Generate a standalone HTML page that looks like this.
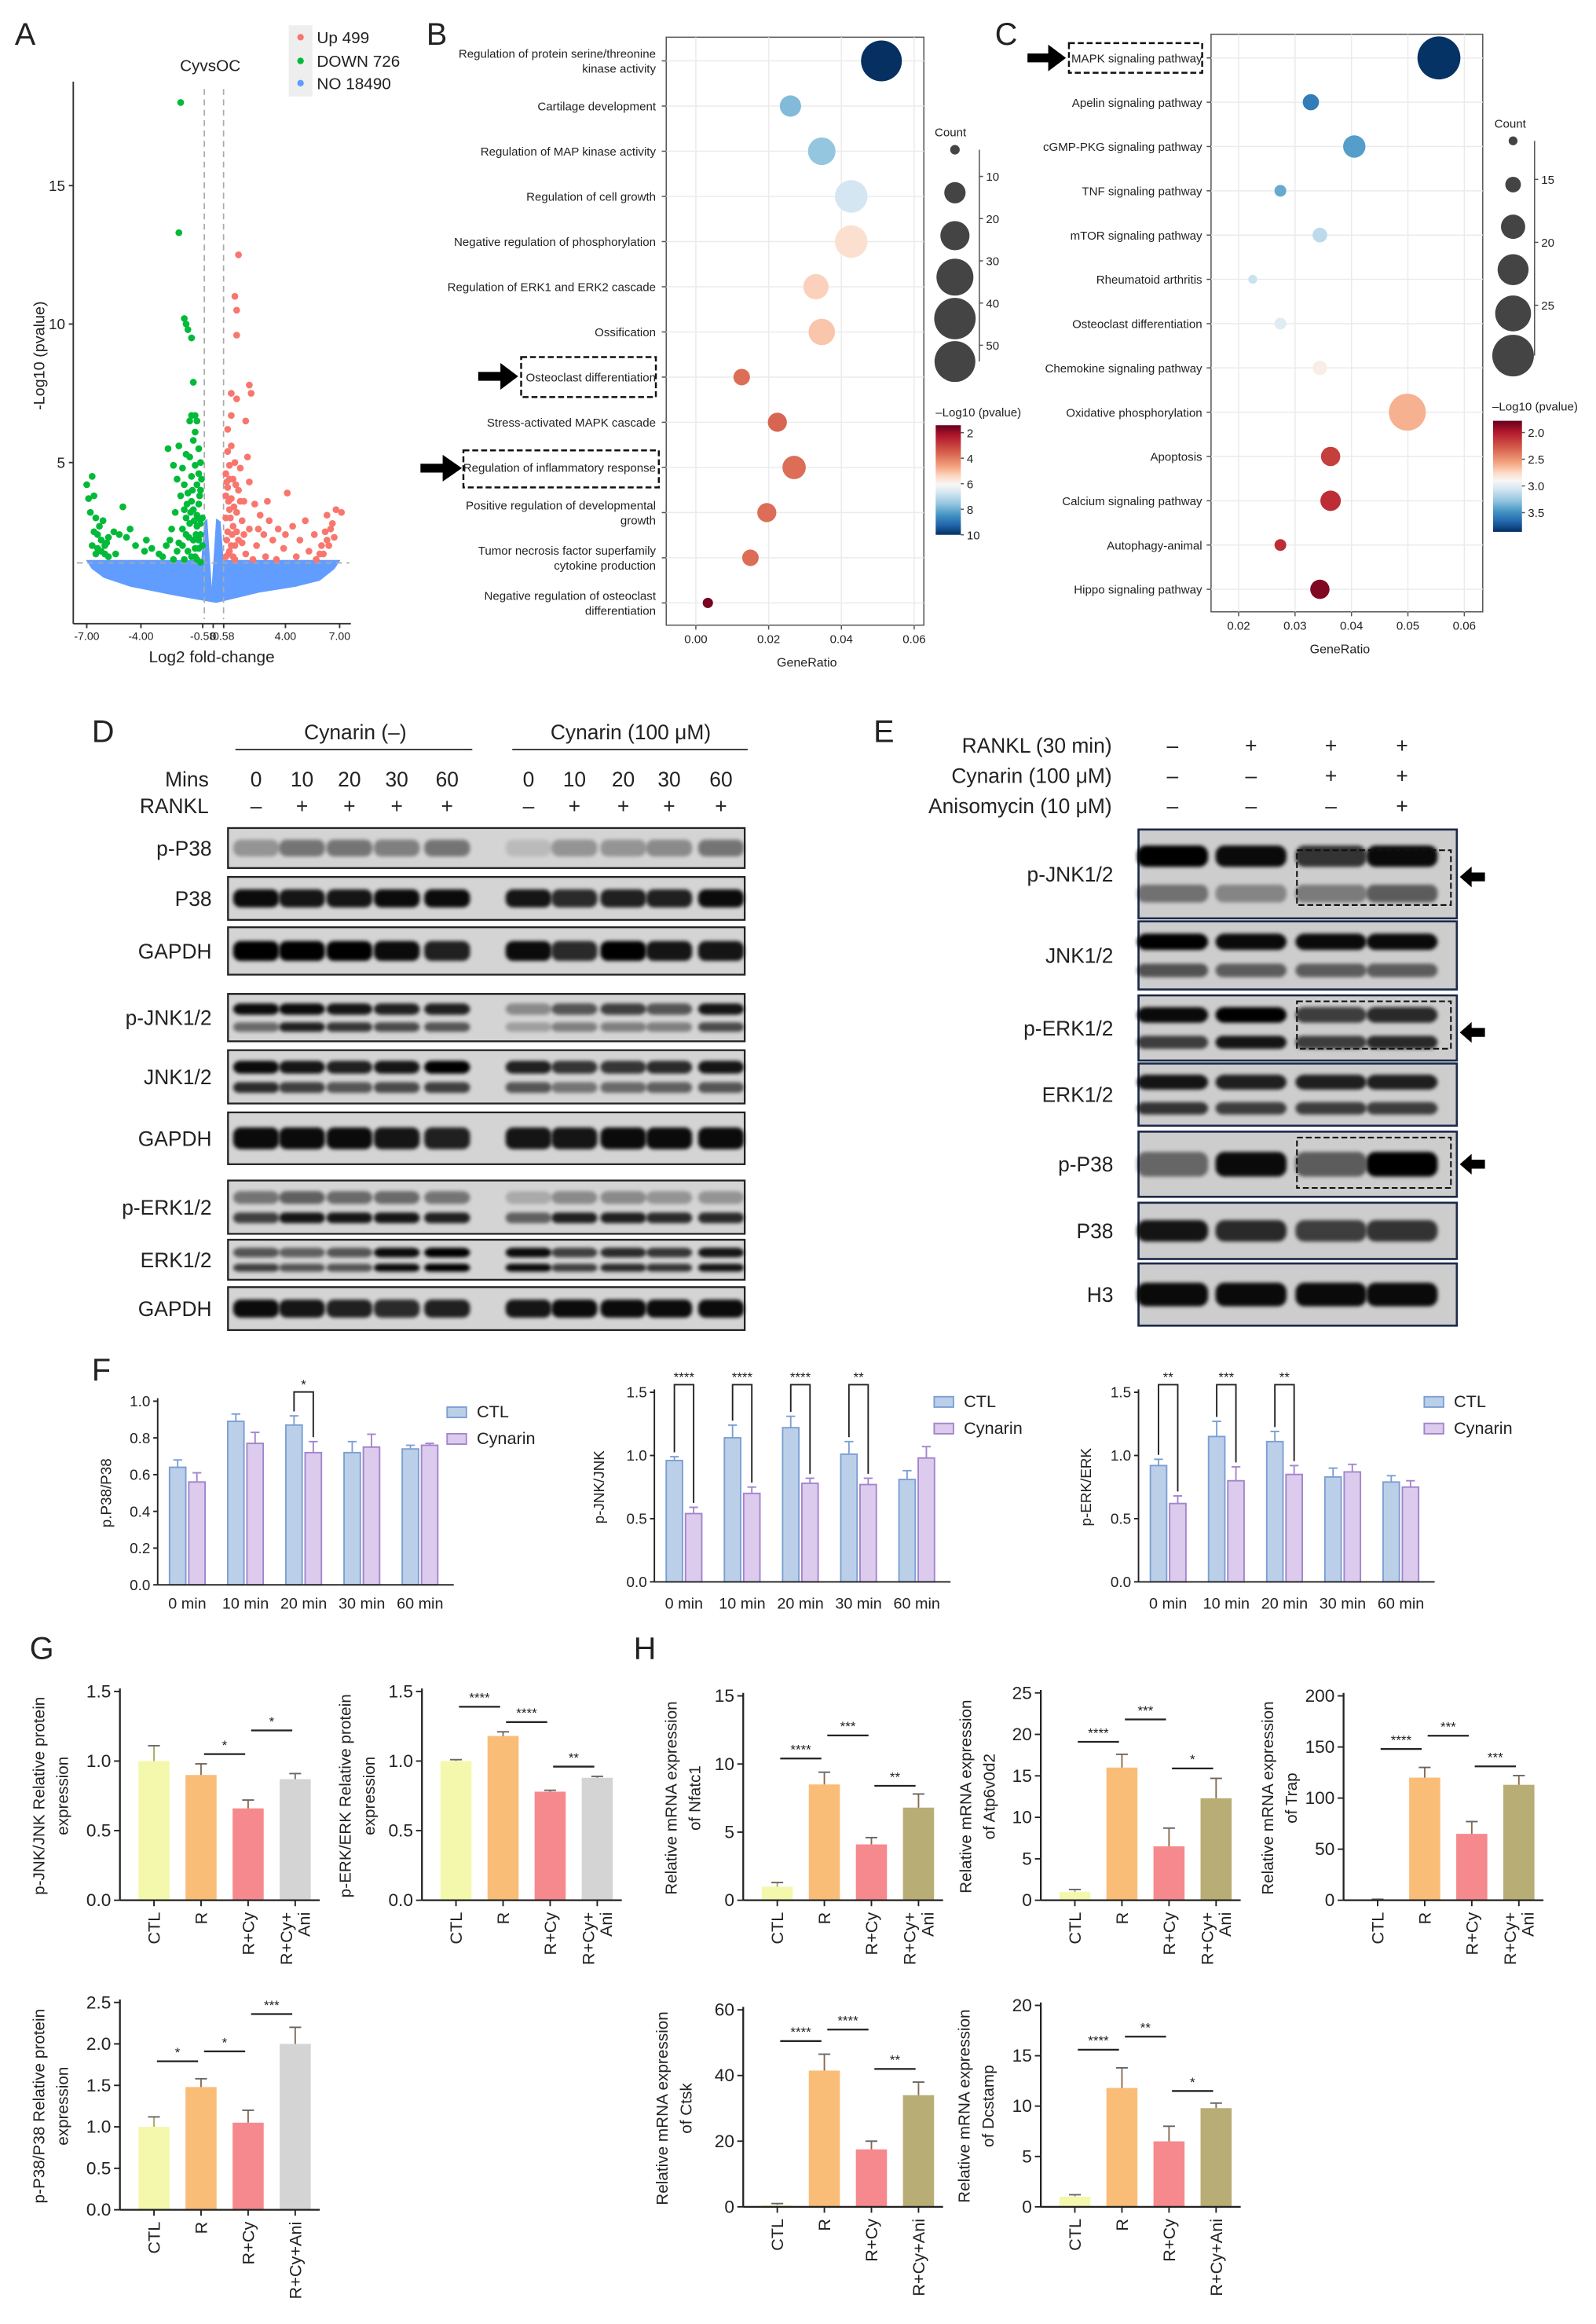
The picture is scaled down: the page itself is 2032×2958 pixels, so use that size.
<!DOCTYPE html>
<html><head><meta charset="utf-8"><title>Cynarin figure</title>
<style>
html,body{margin:0;padding:0;background:#fff;}
svg{display:block;font-family:"Liberation Sans",Arial,sans-serif;}
text{fill:#222;}
</style></head>
<body>
<svg id="fig" xmlns="http://www.w3.org/2000/svg" width="2032" height="2958" viewBox="0 0 1078 1569">
<defs>
<filter id="blur" x="-20%" y="-60%" width="140%" height="220%"><feGaussianBlur stdDeviation="1.3"/></filter>
<linearGradient id="cbB" x1="0" y1="0" x2="0" y2="1">
<stop offset="0" stop-color="#67001f"/><stop offset="0.1" stop-color="#b2182b"/><stop offset="0.25" stop-color="#d6604d"/><stop offset="0.38" stop-color="#f4a582"/><stop offset="0.47" stop-color="#fddbc7"/><stop offset="0.54" stop-color="#f7f7f7"/><stop offset="0.62" stop-color="#d1e5f0"/><stop offset="0.72" stop-color="#92c5de"/><stop offset="0.82" stop-color="#4393c3"/><stop offset="0.91" stop-color="#2166ac"/><stop offset="1" stop-color="#053061"/>
</linearGradient>
</defs>
</svg>
<script>
// ---------- DATA ----------
const volGreen=[[-1.8,18.0],[-1.9,13.3],[-1.6,10.2],[-1.5,10.0],[-1.4,9.8],[-1.2,9.5],[-1.1,7.9],[-1.2,6.7],[-1.0,6.7],[-0.9,6.5],[-1.3,6.5],[-1.0,6.1],[-1.1,5.8],[-1.9,5.6],[-1.5,5.3],[-1.3,5.2],[-0.8,5.5],[-0.7,5.0],[-1.0,4.9],[-0.8,4.6],[-1.2,4.5],[-0.9,4.2],[-0.7,4.0],[-1.6,4.2],[-2.0,4.4],[-1.4,3.9],[-1.8,3.8],[-0.8,3.5],[-1.1,3.3],[-1.5,3.0],[-2.1,3.2],[-1.3,2.8],[-0.9,2.7],[-0.7,2.4],[-1.7,2.6],[-2.3,2.6],[-1.1,2.2],[-1.9,2.1],[-2.6,2.0],[-0.8,1.9],[-1.4,1.8],[-3.0,1.7],[-3.4,1.9],[-3.8,1.8],[-4.3,2.0],[-4.8,2.3],[-5.2,2.4],[-4.6,2.6],[-3.7,2.2],[-5.0,3.4],[-5.5,2.5],[-5.8,2.3],[-6.0,2.0],[-6.2,2.2],[-6.4,2.4],[-6.6,2.5],[-6.3,2.7],[-6.5,3.0],[-6.8,3.2],[-6.9,3.7],[-7.0,4.2],[-6.7,4.5],[-6.6,3.8],[-6.1,2.9],[-5.8,1.6],[-5.4,1.7],[-2.8,1.6],[-2.2,1.5],[-1.6,1.5],[-1.0,1.6],[-0.7,1.4],[-2.5,5.5],[-2.2,4.9],[-1.7,4.8],[-0.6,3.0],[-0.6,2.0],[-1.2,3.6],[-0.9,3.1],[-1.5,2.4],[-2.0,1.8],[-0.65,4.4],[-0.75,3.8],[-0.85,3.0],[-0.95,2.4],[-1.05,2.9],[-1.15,4.0],[-1.25,3.2],[-1.35,2.3],[-1.45,3.5],[-0.7,2.8],[-0.8,2.2],[-1.0,1.9],[-1.2,1.6],[-0.9,1.5],[-1.7,2.0],[-1.6,3.3],[-2.4,2.2],[-6.2,1.8],[-6.4,1.9],[-6.0,1.7],[-5.9,2.1],[-6.7,2.0],[-6.5,1.7]];
const volRed=[[1.4,12.5],[1.2,11.0],[1.3,10.5],[1.3,9.6],[2.0,7.8],[2.1,7.5],[1.0,7.5],[1.3,7.3],[1.0,6.7],[1.8,6.5],[0.8,6.2],[1.0,5.6],[0.8,5.4],[1.9,5.2],[1.2,5.0],[0.9,4.9],[1.5,4.8],[0.7,4.6],[1.1,4.4],[2.0,4.3],[0.8,4.1],[1.4,4.0],[4.1,3.9],[0.7,3.8],[1.0,3.7],[1.7,3.6],[2.3,3.5],[0.9,3.3],[1.3,3.2],[2.6,3.1],[6.3,3.1],[6.8,3.3],[7.1,3.2],[0.7,3.0],[1.6,2.9],[3.1,2.9],[5.1,2.9],[6.6,2.8],[1.1,2.7],[2.0,2.6],[3.6,2.6],[4.4,2.7],[6.5,2.6],[0.8,2.5],[2.8,2.4],[4.0,2.4],[5.6,2.4],[6.3,2.2],[1.4,2.2],[3.3,2.2],[4.8,2.2],[6.0,2.0],[2.4,2.0],[3.9,1.9],[5.3,1.8],[6.1,1.7],[0.9,1.8],[1.8,1.7],[2.9,1.6],[4.6,1.6],[5.7,1.5],[3.5,1.5],[1.2,1.5],[2.2,1.5],[0.7,1.6],[3.0,3.6],[2.5,2.6],[1.6,2.1],[1.0,2.0],[0.75,4.3],[0.85,3.6],[0.95,3.0],[1.05,2.4],[1.15,3.4],[1.25,4.2],[0.75,2.2],[0.85,1.7],[1.1,1.6],[1.3,2.5],[1.5,3.6],[1.7,2.4],[0.9,4.4],[1.2,2.0],[6.2,2.5],[6.4,2.0],[6.7,2.3],[5.9,1.7]];
const volXTicks=[-7,-4,-0.58,0,0.58,4,7];
const volXTickLabels=["-7.00","-4.00","-0.58","0","0.58","4.00","7.00"];
const volYTicks=[5,10,15];

const bTerms=["Regulation of protein serine/threonine|kinase activity","Cartilage development","Regulation of MAP kinase activity","Regulation of cell growth","Negative regulation of phosphorylation","Regulation of ERK1 and ERK2 cascade","Ossification","Osteoclast differentiation","Stress-activated MAPK cascade","Regulation of inflammatory response","Positive regulation of developmental|growth","Tumor necrosis factor superfamily|cytokine production","Negative regulation of osteoclast|differentiation"];
const bRatio=[0.051,0.026,0.0346,0.0427,0.0427,0.033,0.0346,0.0126,0.0224,0.027,0.0195,0.015,0.0033];
const bCount=[55,15,25,35,35,21,23,9,12,18,12,9,3.5];
const bLogP=[10,7.6,7.4,6.5,5.0,4.7,4.5,3.3,3.2,3.3,3.3,3.3,1.6];
const bXTicks=[0,0.02,0.04,0.06];
const bCountLegend=[3,15,28,45,63,55];
const bCountTicks=[10,20,30,40,50];
const bColorTicks=[2,4,6,8,10];

const cTerms=["MAPK signaling pathway","Apelin signaling pathway","cGMP-PKG signaling pathway","TNF signaling pathway","mTOR signaling pathway","Rheumatoid arthritis","Osteoclast differentiation","Chemokine signaling pathway","Oxidative phosphorylation","Apoptosis","Calcium signaling pathway","Autophagy-animal","Hippo signaling pathway"];
const cRatio=[0.0555,0.0328,0.0405,0.0274,0.0344,0.0225,0.0274,0.0344,0.0499,0.0363,0.0363,0.0274,0.0344];
const cCount=[29.7,15.8,19,13.5,15,12,13.5,15,26.6,17.4,18,13.5,17.4];
const cLogP=[3.85,3.55,3.4,3.35,3.1,3.05,2.95,2.75,2.45,2.1,2.05,2.05,1.85];
const cXTicks=[0.02,0.03,0.04,0.05,0.06];
const cCountLegend=[12,15.5,20,23.5,26,29];
const cCountTicks=[15,20,25];
const cColorTicks=[2.0,2.5,3.0,3.5];

const fCats=["0 min","10 min","20 min","30 min","60 min"];
const f1Ctl=[0.64,0.89,0.87,0.72,0.74], f1CtlErr=[0.04,0.04,0.05,0.06,0.02];
const f1Cyn=[0.56,0.77,0.72,0.75,0.76], f1CynErr=[0.05,0.06,0.06,0.07,0.01];
const f1Sig=[[2,1.05,"*"]];
const f1Ticks=[0,0.2,0.4,0.6,0.8,1.0];
const f2Ctl=[0.96,1.14,1.22,1.01,0.81], f2CtlErr=[0.03,0.1,0.09,0.1,0.07];
const f2Cyn=[0.54,0.70,0.78,0.77,0.98], f2CynErr=[0.05,0.05,0.04,0.05,0.09];
const f2Sig=[[0,1.56,"****"],[1,1.56,"****"],[2,1.56,"****"],[3,1.56,"**"]];
const f3Ctl=[0.92,1.15,1.11,0.83,0.79], f3CtlErr=[0.05,0.12,0.08,0.07,0.05];
const f3Cyn=[0.62,0.80,0.85,0.87,0.75], f3CynErr=[0.06,0.11,0.07,0.06,0.05];
const f3Sig=[[0,1.56,"**"],[1,1.56,"***"],[2,1.56,"**"]];
const f23Ticks=[0,0.5,1.0,1.5];

const gCats=["CTL","R","R+Cy","R+Cy+|Ani"];
const gCats3=["CTL","R","R+Cy","R+Cy+Ani"];
const g1Vals=[1.0,0.90,0.66,0.87], g1Err=[0.11,0.08,0.06,0.04], g1Sig=[[1,2,1.05,"*"],[2,3,1.22,"*"]];
const g2Vals=[1.0,1.18,0.78,0.88], g2Err=[0.01,0.03,0.01,0.01], g2Sig=[[0,1,1.39,"****"],[1,2,1.28,"****"],[2,3,0.96,"**"]];
const g3Vals=[1.0,1.48,1.05,2.0], g3Err=[0.12,0.1,0.15,0.2], g3Sig=[[0,1,1.79,"*"],[1,2,1.91,"*"],[2,3,2.36,"***"]];
const h1Vals=[1.0,8.5,4.1,6.8], h1Err=[0.3,0.9,0.5,1.0], h1Sig=[[0,1,10.4,"****"],[1,2,12.1,"***"],[2,3,8.4,"**"]];
const h2Vals=[1.0,16,6.5,12.3], h2Err=[0.3,1.6,2.2,2.4], h2Sig=[[0,1,19.1,"****"],[1,2,21.8,"***"],[2,3,15.9,"*"]];
const h3Vals=[0.5,120,65,113], h3Err=[0.5,10,12,9], h3Sig=[[0,1,148,"****"],[1,2,161,"***"],[2,3,131,"***"]];
const h4Vals=[0.5,41.5,17.5,34], h4Err=[0.5,5,2.5,4], h4Sig=[[0,1,50.5,"****"],[1,2,54,"****"],[2,3,42,"**"]];
const h5Vals=[1.0,11.8,6.5,9.8], h5Err=[0.2,2,1.5,0.5], h5Sig=[[0,1,15.6,"****"],[1,2,16.9,"**"],[2,3,11.5,"*"]];

const dLanes=["0","10","20","30","60","0","10","20","30","60"];
const dRankl=["–","+","+","+","+","–","+","+","+","+"];
const dRows=["p-P38","P38","GAPDH","p-JNK1/2","JNK1/2","GAPDH","p-ERK1/2","ERK1/2","GAPDH"];
const dIntUpper=[[0.3,0.45,0.45,0.4,0.45,0.12,0.3,0.3,0.35,0.45],[0.95,0.9,0.9,0.95,0.95,0.9,0.8,0.85,0.85,0.95],[1,1,1,0.95,0.85,0.95,0.8,1,0.9,0.9],[0.95,0.95,0.9,0.85,0.85,0.35,0.6,0.7,0.6,0.9],[0.95,0.9,0.85,0.9,1,0.85,0.75,0.75,0.8,0.9],[0.95,0.95,0.95,0.9,0.85,0.9,0.9,0.95,0.95,0.95],[0.45,0.55,0.5,0.5,0.45,0.2,0.35,0.35,0.3,0.3],[0.6,0.55,0.6,0.95,1,0.95,0.7,0.8,0.75,0.9],[0.95,0.9,0.85,0.8,0.85,0.9,0.95,0.95,0.95,0.95]];
const dIntLower=[null,null,null,[0.5,0.85,0.75,0.65,0.6,0.25,0.4,0.4,0.4,0.65],[0.8,0.7,0.6,0.65,0.7,0.6,0.45,0.5,0.55,0.6],null,[0.7,0.9,0.9,0.9,0.85,0.55,0.85,0.85,0.8,0.8],[0.7,0.6,0.6,0.95,1,0.95,0.7,0.8,0.75,0.9],null];

const eSigns=[["–","+","+","+"],["–","–","+","+"],["–","–","–","+"]];
const eHeaders=["RANKL (30 min)","Cynarin (100 μM)","Anisomycin (10 μM)"];
const eRows=["p-JNK1/2","JNK1/2","p-ERK1/2","ERK1/2","p-P38","P38","H3"];
const eIntUpper=[[1,0.95,0.75,0.95],[1,0.95,0.95,0.95],[0.95,1,0.7,0.8],[0.9,0.85,0.85,0.85],[0.5,0.95,0.55,1],[0.9,0.8,0.7,0.75],[0.95,0.95,0.95,0.95]];
const eIntLower=[[0.45,0.35,0.4,0.55],[0.6,0.55,0.55,0.55],[0.7,0.9,0.7,0.8],[0.75,0.7,0.7,0.7],null,null,null];

// ---------- HELPERS ----------
const NS='http://www.w3.org/2000/svg';
const root=document.getElementById('fig');
function el(tag,attrs,name,inter,parent){
  const e=document.createElementNS(NS,tag);
  for(const k in attrs) e.setAttribute(k,attrs[k]);
  
  
  (parent||root).appendChild(e);
  return e;
}
function txt(x,y,s,size,anchor,name,extra){
  const a=Object.assign({x:x,y:y,'font-size':size,'text-anchor':anchor||'start'},extra||{});
  const t=el('text',a,name,false);
  t.textContent=s;
  return t;
}
function line(x1,y1,x2,y2,stroke,w,name,extra){
  return el('line',Object.assign({x1:x1,y1:y1,x2:x2,y2:y2,stroke:stroke,'stroke-width':w},extra||{}),name,false);
}
const RDBU=['#67001f','#b2182b','#d6604d','#f4a582','#fddbc7','#f7f7f7','#d1e5f0','#92c5de','#4393c3','#2166ac','#053061'];
function hex(c){return [parseInt(c.substr(1,2),16),parseInt(c.substr(3,2),16),parseInt(c.substr(5,2),16)];}
function cmap(t){
  t=Math.max(0,Math.min(1,t));
  const p=t*10, i=Math.min(9,Math.floor(p)), f=p-i;
  const a=hex(RDBU[i]), b=hex(RDBU[i+1]);
  return 'rgb('+a.map((v,k)=>Math.round(v+(b[k]-v)*f)).join(',')+')';
}
function panelLabel(x,y,s){ txt(x,y,s,21,'start','panel-label-'+s.toLowerCase()); }

// ---------- PANEL A: volcano ----------
panelLabel(10,30,'A');
(function(){
  const vx=v=>144+v*12.2, vy=v=>405.7-v*18.7;
  el('path',{d:'M58,378 L136,378 L138,352 L140,350 L143,396 L146,350 L149,352 L151,378 L230,378 L226,384 L216,392 L200,396 L175,400 L146,407 L118,402 L88,396 L70,390 L62,384 Z',fill:'#619cff'},'non-significant-genes',false);
  line(138,60,138,418,'#aaa',0.9,'threshold-line-left',{'stroke-dasharray':'4,3'});
  line(151,60,151,418,'#aaa',0.9,'threshold-line-right',{'stroke-dasharray':'4,3'});
  line(52,380,236,380,'#aaa',0.9,'pvalue-threshold-line',{'stroke-dasharray':'4,3'});
  volGreen.forEach(p=>{
    const c=el('circle',{cx:vx(p[0]),cy:vy(p[1]),r:2.3,fill:'#00ba38'},'down-gene-point',false);
  });
  volRed.forEach(p=>{
    const c=el('circle',{cx:vx(p[0]),cy:vy(p[1]),r:2.3,fill:'#f8766d'},'up-gene-point',false);
  });
  line(49.5,55,49.5,421,'#333',1,'volcano-y-axis');
  line(49.5,421,237,421,'#333',1,'volcano-x-axis');
  volYTicks.forEach(v=>{
    line(46.5,vy(v),49.5,vy(v),'#333',1,'volcano-y-tick');
    txt(44,vy(v)+3.5,String(v),10,'end','volcano-y-tick-label');
  });
  volXTicks.forEach((v,i)=>{
    line(vx(v),421,vx(v),424,'#333',1,'volcano-x-tick');
    txt(vx(v),432,volXTickLabels[i],7.5,'middle','volcano-x-tick-label',{fill:'#444'});
  });
  txt(143,447,'Log2 fold-change',11,'middle','volcano-x-axis-title');
  txt(0,0,'-Log10 (pvalue)',10.5,'middle','volcano-y-axis-title',{transform:'translate(30,240) rotate(-90)'});
  txt(142,48,'CyvsOC',11,'middle','volcano-title');
  el('rect',{x:195,y:17,width:16,height:48,fill:'#eee'},'legend-key-bg',false);
  [['Up 499','#f8766d',25],['DOWN 726','#00ba38',41],['NO 18490','#619cff',56]].forEach(l=>{
    el('circle',{cx:203,cy:l[2],r:2.2,fill:l[1]},'legend-marker',false);
    txt(214,l[2]+4,l[0],11,'start','legend-entry');
  });
})();

// ---------- PANEL B: GO bubble ----------
panelLabel(288,30,'B');
(function(){
  const x=v=>470+v*2458, y=i=>41+i*30.5;
  el('rect',{x:450,y:25,width:174,height:397,fill:'#fff',stroke:'#555','stroke-width':0.8},'go-plot-area',false);
  bXTicks.forEach(v=>{ line(x(v),25,x(v),422,'#ebebeb',0.8,'go-gridline-x'); });
  bTerms.forEach((t,i)=>{ line(450,y(i),624,y(i),'#ebebeb',0.8,'go-gridline-y'); });
  bTerms.forEach((t,i)=>{
    const parts=t.split('|');
    parts.forEach((p,k)=>{
      const yy=y(i)+3-(parts.length-1)*5+k*10;
      txt(443,yy,p,8,'end','go-term-label',{fill:'#333'});
    });
    line(447,y(i),450,y(i),'#555',0.8,'go-term-tick');
  });
  bTerms.forEach((t,i)=>{
    el('circle',{cx:x(bRatio[i]),cy:y(i),r:1.86*Math.sqrt(bCount[i]),fill:cmap((bLogP[i]-1.42)/(10-1.42))},'go-bubble',false);
  });
  bXTicks.forEach(v=>{
    line(x(v),422,x(v),425,'#555',0.8,'go-x-tick');
    txt(x(v),434,v.toFixed(2),8,'middle','go-x-tick-label',{fill:'#444'});
  });
  txt(545,450,'GeneRatio',8.5,'middle','go-x-axis-title',{fill:'#333'});
  el('path',{d:'M323,251 L338,251 L338,245 L350,254 L338,263 L338,257 L323,257 Z',fill:'#000'},'highlight-arrow',false);
  el('rect',{x:352,y:241,width:91,height:27,fill:'none',stroke:'#111','stroke-width':1.3,'stroke-dasharray':'4,2'},'highlight-box',false);
  el('path',{d:'M284,313 L299,313 L299,307 L312,316 L299,325 L299,319 L284,319 Z',fill:'#000'},'highlight-arrow',false);
  el('rect',{x:313,y:304,width:132,height:25,fill:'none',stroke:'#111','stroke-width':1.3,'stroke-dasharray':'4,2'},'highlight-box',false);
  txt(642,92,'Count',8,'middle','count-legend-title',{fill:'#333'});
  const ly=[101,130,159,187,215,244];
  bCountLegend.forEach((c,i)=>{ el('circle',{cx:645,cy:ly[i],r:Math.min(14,1.86*Math.sqrt(c)),fill:'#444'},'count-legend-circle',false); });
  line(661.5,101,661.5,244,'#555',0.8,'count-legend-axis');
  const cy=v=>119+(v-10)*2.85;
  bCountTicks.forEach(v=>{ line(661.5,cy(v),664,cy(v),'#555',0.8,'count-legend-tick'); txt(666,cy(v)+3,String(v),8,'start','count-legend-label',{fill:'#333'}); });
  txt(632,281,'–Log10 (pvalue)',8,'start','colorbar-title',{fill:'#333'});
  el('rect',{x:632,y:287,width:17,height:74,fill:'url(#cbB)'},'colorbar',false);
  const cby=v=>287+(v-1.42)/(10-1.42)*74;
  bColorTicks.forEach(v=>{ line(649,cby(v),651,cby(v),'#555',0.8,'colorbar-tick'); txt(653,cby(v)+3,String(v),8,'start','colorbar-label',{fill:'#333'}); });
})();

// ---------- PANEL C: KEGG bubble ----------
panelLabel(672,30,'C');
(function(){
  const x=v=>760.4+v*3811, y=i=>39+i*29.9;
  el('rect',{x:818,y:23,width:183.5,height:390,fill:'#fff',stroke:'#555','stroke-width':0.8},'kegg-plot-area',false);
  cXTicks.forEach(v=>{ line(x(v),23,x(v),413,'#ebebeb',0.8,'kegg-gridline-x'); });
  cTerms.forEach((t,i)=>{ line(818,y(i),1001.5,y(i),'#ebebeb',0.8,'kegg-gridline-y'); });
  cTerms.forEach((t,i)=>{
    txt(812,y(i)+3,t,8,'end','kegg-term-label',{fill:'#333'});
    line(815,y(i),818,y(i),'#555',0.8,'kegg-term-tick');
  });
  cTerms.forEach((t,i)=>{
    el('circle',{cx:x(cRatio[i]),cy:y(i),r:3+(cCount[i]-12)*0.65,fill:cmap((cLogP[i]-1.78)/(3.86-1.78))},'kegg-bubble',false);
  });
  cXTicks.forEach(v=>{
    line(x(v),413,x(v),416,'#555',0.8,'kegg-x-tick');
    txt(x(v),425,v.toFixed(2),8,'middle','kegg-x-tick-label',{fill:'#444'});
  });
  txt(905,441,'GeneRatio',8.5,'middle','kegg-x-axis-title',{fill:'#333'});
  el('path',{d:'M694,36 L708,36 L708,30 L720,39 L708,48 L708,42 L694,42 Z',fill:'#000'},'highlight-arrow',false);
  el('rect',{x:722,y:29,width:90,height:20,fill:'none',stroke:'#111','stroke-width':1.3,'stroke-dasharray':'4,2'},'highlight-box',false);
  txt(1020,86,'Count',8,'middle','count-legend-title',{fill:'#333'});
  const ly=[95,124.5,153,182,211.5,240];
  cCountLegend.forEach((c,i)=>{ el('circle',{cx:1022,cy:ly[i],r:3+(c-12)*0.65,fill:'#444'},'count-legend-circle',false); });
  line(1036.5,95,1036.5,240,'#555',0.8,'count-legend-axis');
  const cy=v=>121+(v-15)*8.5;
  cCountTicks.forEach(v=>{ line(1036.5,cy(v),1039,cy(v),'#555',0.8,'count-legend-tick'); txt(1041,cy(v)+3,String(v),8,'start','count-legend-label',{fill:'#333'}); });
  txt(1008,277,'–Log10 (pvalue)',8,'start','colorbar-title',{fill:'#333'});
  el('rect',{x:1008.5,y:284,width:19.5,height:75,fill:'url(#cbB)'},'colorbar',false);
  const cby=v=>284+(v-1.78)/(3.86-1.78)*75;
  cColorTicks.forEach(v=>{ line(1028,cby(v),1030,cby(v),'#555',0.8,'colorbar-tick'); txt(1032,cby(v)+3,v.toFixed(1),8,'start','colorbar-label',{fill:'#333'}); });
})();

// ---------- PANEL D: western blots ----------
panelLabel(62,501,'D');
(function(){
  const lx=[173,204,236,268,302,357,388,421,452,487];
  txt(240,499,'Cynarin (–)',14,'middle','group-header-cynarin-neg');
  line(159,506,319,506,'#333',1,'group-underline');
  txt(426,499,'Cynarin (100 μM)',14,'middle','group-header-cynarin-100');
  line(346,506,505,506,'#333',1,'group-underline');
  txt(141,531,'Mins',14,'end','mins-label');
  txt(141,549,'RANKL',14,'end','rankl-label');
  dLanes.forEach((s,i)=>{ txt(lx[i],531,s,14,'middle','lane-minutes'); txt(lx[i],549,dRankl[i],14,'middle','lane-rankl-sign'); });
  const boxes=[[559,586],[592,621],[626,658],[671,703],[709,745],[751,786],[797,833],[837,864],[869,898]];
  boxes.forEach((b,r)=>{
    const g=el('g',{},'blot-'+dRows[r].toLowerCase().replace(/[^a-z0-9]+/g,'-'),false);
    el('rect',{x:154,y:b[0],width:349,height:b[1]-b[0],fill:'#d4d4d4',stroke:'#222','stroke-width':1.2},'blot-membrane',false,g);
    const two=dIntLower[r]!==null;
    const h=b[1]-b[0];
    dIntUpper[r].forEach((v,i)=>{
      const bh=two?h*0.24:h*0.42;
      const cy=two? b[0]+h*0.32 : b[0]+h*0.5;
      el('rect',{x:lx[i]-15.5,y:cy-bh/2,width:31,height:bh,rx:5,fill:'#000','fill-opacity':v,filter:'url(#blur)'},'blot-band',false,g);
    });
    if(two) dIntLower[r].forEach((v,i)=>{
      const bh=h*0.2;
      el('rect',{x:lx[i]-15.5,y:b[0]+h*0.7-bh/2,width:31,height:bh,rx:4,fill:'#000','fill-opacity':v,filter:'url(#blur)'},'blot-band',false,g);
    });
    txt(143,(b[0]+b[1])/2+5,dRows[r],14,'end','blot-row-label');
  });
})();

// ---------- PANEL E ----------
panelLabel(590,501,'E');
(function(){
  const lx=[792,845,899,947];
  eHeaders.forEach((h,r)=>{
    txt(751,508+r*20.5,h,14,'end','treatment-header');
    eSigns[r].forEach((s,i)=>{ txt(lx[i],508+r*20.5,s,14,'middle','treatment-sign'); });
  });
  const boxes=[[560,620],[622,668],[672,716],[718,760],[764,808],[812,850],[853,895]];
  boxes.forEach((b,r)=>{
    const g=el('g',{},'blot-e-'+eRows[r].toLowerCase().replace(/[^a-z0-9]+/g,'-'),false);
    el('rect',{x:769,y:b[0],width:215,height:b[1]-b[0],fill:'#cdcdcd',stroke:'#1c2a4a','stroke-width':1.4},'blot-membrane',false,g);
    const two=eIntLower[r]!==null;
    const h=b[1]-b[0];
    eIntUpper[r].forEach((v,i)=>{
      const bh=two?h*0.24:h*0.38;
      const cy=two? b[0]+h*0.3 : b[0]+h*0.5;
      el('rect',{x:lx[i]-24,y:cy-bh/2,width:48,height:bh,rx:6,fill:'#000','fill-opacity':v,filter:'url(#blur)'},'blot-band',false,g);
    });
    if(two) eIntLower[r].forEach((v,i)=>{
      const bh=h*0.2;
      el('rect',{x:lx[i]-24,y:b[0]+h*0.72-bh/2,width:48,height:bh,rx:5,fill:'#000','fill-opacity':v,filter:'url(#blur)'},'blot-band',false,g);
    });
    txt(752,(b[0]+b[1])/2+5,eRows[r],14,'end','blot-row-label');
  });
  [[876,574,104,37,592],[876,676,104,32,697],[876,768,104,34,786]].forEach(d=>{
    el('rect',{x:d[0],y:d[1],width:d[2],height:d[3],fill:'none',stroke:'#111','stroke-width':1.1,'stroke-dasharray':'4,2'},'highlight-box',false);
    el('path',{d:'M1003,'+(d[4]-3)+' L994,'+(d[4]-3)+' L994,'+(d[4]-7)+' L986,'+d[4]+' L994,'+(d[4]+7)+' L994,'+(d[4]+3)+' L1003,'+(d[4]+3)+' Z',fill:'#000'},'highlight-arrow',false);
  });
})();

// ---------- PANEL F ----------
panelLabel(62,932,'F');
function fChart(name,x0,yb,yt,vmax,ticks,dec,ctl,ctlE,cyn,cynE,sig,ylabel,ylx,legX,legY){
  const g=el('g',{},name,false);
  const y=v=>yb-(v/vmax)*(yb-yt);
  const gx=i=>x0+20+i*39.3;
  ctl.forEach((v,i)=>{
    const cx=gx(i)-6.5;
    el('rect',{x:cx-5.5,y:y(v),width:11,height:yb-y(v),fill:'#bccfe9',stroke:'#7b9fd3','stroke-width':1},'bar-ctl-'+fCats[i].replace(' ',''),false,g);
    line(cx,y(v),cx,y(v+ctlE[i]),'#7b9fd3',1,'error-bar');
    line(cx-3,y(v+ctlE[i]),cx+3,y(v+ctlE[i]),'#7b9fd3',1,'error-cap');
  });
  cyn.forEach((v,i)=>{
    const cx=gx(i)+6.5;
    el('rect',{x:cx-5.5,y:y(v),width:11,height:yb-y(v),fill:'#dccbed',stroke:'#a384cd','stroke-width':1},'bar-cynarin-'+fCats[i].replace(' ',''),false,g);
    line(cx,y(v),cx,y(v+cynE[i]),'#a384cd',1,'error-bar');
    line(cx-3,y(v+cynE[i]),cx+3,y(v+cynE[i]),'#a384cd',1,'error-cap');
  });
  sig.forEach(s=>{
    const i=s[0], lev=y(s[1]);
    const a=gx(i)-6.5, b=gx(i)+6.5;
    el('path',{d:'M'+a+','+(y(ctl[i]+ctlE[i])-3)+' V'+lev+' H'+b+' V'+(y(cyn[i]+cynE[i])-3),fill:'none',stroke:'#222','stroke-width':1},'significance-bracket',false);
    txt((a+b)/2,lev-2,s[2],9,'middle','significance-label');
  });
  line(x0,yt-2,x0,yb,'#222',1,'y-axis');
  line(x0,yb,x0+200,yb,'#222',1,'x-axis');
  ticks.forEach(v=>{
    line(x0-3,y(v),x0,y(v),'#222',1,'y-tick');
    txt(x0-5,y(v)+3.5,v.toFixed(dec),10,'end','y-tick-label');
  });
  fCats.forEach((c,i)=>{ txt(gx(i),1086,c,10.5,'middle','x-tick-label'); });
  txt(0,0,ylabel,10,'middle','y-axis-title',{transform:'translate('+ylx+','+((yb+yt)/2)+') rotate(-90)'});
  el('rect',{x:legX,y:legY-7,width:13,height:7,fill:'#bccfe9',stroke:'#7b9fd3','stroke-width':1},'legend-swatch-ctl',false);
  txt(legX+20,legY,'CTL',11.5,'start','legend-entry-ctl');
  el('rect',{x:legX,y:legY+11,width:13,height:7,fill:'#dccbed',stroke:'#a384cd','stroke-width':1},'legend-swatch-cynarin',false);
  txt(legX+20,legY+18,'Cynarin',11.5,'start','legend-entry-cynarin');
}
fChart('chart-p38',106.5,1070,946,1.0,f1Ticks,1,f1Ctl,f1CtlErr,f1Cyn,f1CynErr,f1Sig,'p.P38/P38',75,302,957);
fChart('chart-jnk',442,1068,940,1.5,f23Ticks,1,f2Ctl,f2CtlErr,f2Cyn,f2CynErr,f2Sig,'p-JNK/JNK',408,631,950);
fChart('chart-erk',769,1068,940,1.5,f23Ticks,1,f3Ctl,f3CtlErr,f3Cyn,f3CynErr,f3Sig,'p-ERK/ERK',737,962,950);

// ---------- PANELS G & H ----------
panelLabel(20,1120,'G');
panelLabel(428,1120,'H');
const gColors=['#f4f8ad','#f9bd78','#f6898d','#d4d4d4'];
const hColors=['#f4f8ad','#f9bd78','#f6898d','#b9ad76'];
function gChart(name,x0,yb,yt,vmax,ticks,dec,vals,errs,colors,sig,ylab,ylx,cats){
  const g=el('g',{},name,false);
  const y=v=>yb-(v/vmax)*(yb-yt);
  const bx=i=>x0+23+i*31.8;
  vals.forEach((v,i)=>{
    el('rect',{x:bx(i)-10.5,y:y(v),width:21,height:yb-y(v),fill:colors[i]},'bar-'+cats[i].replace('|','').toLowerCase(),false,g);
    line(bx(i),y(v),bx(i),y(v+errs[i]),colors[i]==='#f4f8ad'?'#a8ab60':'#8a6a50',1,'error-bar');
    line(bx(i)-4,y(v+errs[i]),bx(i)+4,y(v+errs[i]),'#666',1,'error-cap');
  });
  sig.forEach(s=>{
    const a=bx(s[0])+2, b=bx(s[1])-2, lev=y(s[2]);
    line(a,lev,b,lev,'#222',1.2,'significance-line');
    txt((a+b)/2,lev-3,s[3],9,'middle','significance-label');
  });
  line(x0,yt-2,x0,yb,'#222',1.2,'y-axis');
  line(x0,yb,x0+135,yb,'#222',1.2,'x-axis');
  ticks.forEach(v=>{
    line(x0-4,y(v),x0,y(v),'#222',1,'y-tick');
    txt(x0-6,y(v)+4,dec?v.toFixed(dec):String(v),12,'end','y-tick-label');
  });
  cats.forEach((c,i)=>{
    line(bx(i),yb,bx(i),yb+4,'#222',1,'x-tick');
    const parts=c.split('|');
    parts.forEach((p,k)=>{
      const xx=bx(i)+4-(parts.length-1)*6+k*12;
      txt(0,0,p,11.5,'end','x-tick-label',{transform:'translate('+xx+','+(yb+8)+') rotate(-90)'});
    });
  });
  ylab.forEach((l,k)=>{ txt(0,0,l,11,'middle','y-axis-title',{transform:'translate('+(ylx+k*16)+','+((yb+yt)/2)+') rotate(-90)'}); });
}
gChart('chart-g-jnk',81,1283,1142,1.5,[0,0.5,1.0,1.5],1,g1Vals,g1Err,gColors,g1Sig,['p-JNK/JNK Relative protein','expression'],30,gCats);
gChart('chart-g-erk',285,1283,1142,1.5,[0,0.5,1.0,1.5],1,g2Vals,g2Err,gColors,g2Sig,['p-ERK/ERK Relative protein','expression'],237,gCats);
gChart('chart-g-p38',81,1492,1352,2.5,[0,0.5,1.0,1.5,2.0,2.5],1,g3Vals,g3Err,gColors,g3Sig,['p-P38/P38 Relative protein','expression'],30,gCats3);
gChart('chart-h-nfatc1',502,1283,1145,15,[0,5,10,15],0,h1Vals,h1Err,hColors,h1Sig,['Relative mRNA expression','of Nfatc1'],457,gCats);
gChart('chart-h-atp6v0d2',703,1283,1143,25,[0,5,10,15,20,25],0,h2Vals,h2Err,hColors,h2Sig,['Relative mRNA expression','of Atp6v0d2'],656,gCats);
gChart('chart-h-trap',907.5,1283,1145,200,[0,50,100,150,200],0,h3Vals,h3Err,hColors,h3Sig,['Relative mRNA expression','of Trap'],860,gCats);
gChart('chart-h-ctsk',502,1490,1357,60,[0,20,40,60],0,h4Vals,h4Err,hColors,h4Sig,['Relative mRNA expression','of Ctsk'],451,gCats3);
gChart('chart-h-dcstamp',703,1490,1354,20,[0,5,10,15,20],0,h5Vals,h5Err,hColors,h5Sig,['Relative mRNA expression','of Dcstamp'],655,gCats3);
</script>
</body></html>
